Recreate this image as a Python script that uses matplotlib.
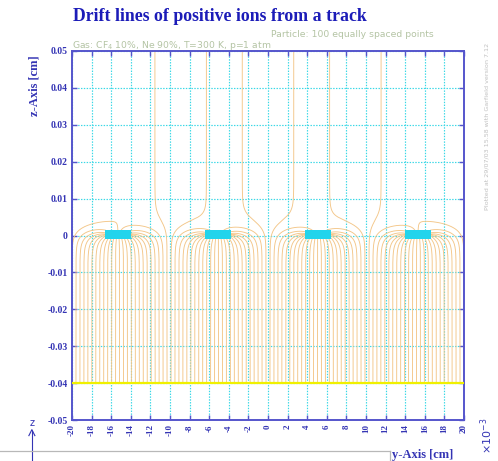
import numpy as np
import matplotlib.pyplot as plt
from matplotlib.patches import Rectangle
from matplotlib.lines import Line2D

# cell geometry, lengths in units of 1e-3 cm
pitch = 10.2
strip_centres = [-15.3, -5.1, 5.1, 15.3]
strip_width = 2.6
strip_bottom, strip_top = -1.0, 1.5
track_z = -40.0
n_points = 100
track_y = np.linspace(-20, 20, n_points)
field_ratio = 1 / 13  # drift field above the strips / below the strips

x_ticks = np.arange(-20, 21, 2)
z_ticks = [0.05, 0.04, 0.03, 0.02, 0.01, 0, -0.01, -0.02, -0.03, -0.04, -0.05]

blue = '#3434b4'
frame = '#5555cc'
serif = 'Liberation Serif'

# --- field: periodic strips (charge spread like a thin conductor) + uniform field
a = (1 - field_ratio) / (1 + field_ratio)
nn = 16
nodes = (strip_centres[2]
         + 0.5 * strip_width * np.cos((np.arange(nn) + 0.5) * np.pi / nn)
         + 1j * 0.5 * (strip_bottom + strip_top))


def efield(p):
    c = np.pi * (p[:, None] - nodes[None, :]) / pitch
    cot = np.cos(c) / np.sin(c)
    return 1j - a * np.conj(cot.mean(axis=1))


def on_strip(p):
    cs = strip_centres[2] + pitch * np.round((p.real - strip_centres[2]) / pitch)
    return ((np.abs(p.real - cs) <= strip_width / 2)
            & (p.imag >= strip_bottom) & (p.imag <= strip_top))


h = 0.05
pos = track_y + 1j * track_z
alive = np.ones(n_points, bool)
traj = [pos.copy()]
for _ in range(3500):
    if not alive.any():
        break
    p = pos[alive]
    d = efield(p)
    d /= np.abs(d)
    d2 = efield(p + 0.5 * h * d)
    d2 /= np.abs(d2)
    pos[alive] = p + h * d2
    done = on_strip(pos) | (pos.imag > 52) | (np.abs(pos.real) > 21)
    alive &= ~done
    traj.append(pos.copy())
traj = np.array(traj)

# --- figure
fig = plt.figure(figsize=(4.98, 4.61), dpi=100)
ax = fig.add_axes([0.1446, 0.0889, 0.7871, 0.8005])

ax.grid(color='#3ad8e6', linestyle=(0, (1.2, 1.2)), linewidth=0.85)
ax.set_axisbelow(True)

ax.plot(traj.real, traj.imag * 1e-3, color='#f3c688', linewidth=0.65)
ax.axhline(track_z * 1e-3, color='#f0f000', linewidth=1.6, zorder=4)
for c in strip_centres:
    ax.add_patch(Rectangle((c - strip_width / 2, strip_bottom * 1e-3), strip_width,
                           (strip_top - strip_bottom) * 1e-3,
                           facecolor='#22d4ec', edgecolor='none', zorder=5))

ax.set_xlim(-20, 20)
ax.set_ylim(-0.05, 0.05)
ax.set_xticks(x_ticks)
ax.set_xticklabels([str(v) for v in x_ticks], rotation=90, fontsize=6.5,
                   fontweight='bold', family=serif, color=blue)
ax.set_yticks(z_ticks)
ax.set_yticklabels(['0' if v == 0 else '%.2f' % v for v in z_ticks], fontsize=7,
                   fontweight='bold', family=serif, color=blue)
ax.tick_params(direction='in', top=True, right=True, length=3.5, width=1,
               color=frame, pad=3)
for s in ax.spines.values():
    s.set_color(frame)
    s.set_linewidth(1.4)

fig.text(0.442, 0.964, 'Drift lines of positive ions from a track', ha='center',
         va='center', fontsize=12.8, fontweight='bold', family=serif, color='#1c1cb8')
fig.text(0.145, 0.902, 'Gas: CF$_4$ 10%, Ne 90%, T=300 K, p=1 atm', fontsize=6.7,
         color='#b4c4a4', va='center')
fig.text(0.87, 0.926, 'Particle: 100 equally spaced points', fontsize=6.7,
         color='#b4c4a4', va='center', ha='right')
fig.text(0.07, 0.815, 'z-Axis [cm]', rotation=90, ha='center', va='center',
         fontsize=9, fontweight='bold', family=serif, color=blue)
fig.text(0.787, 0.012, 'y-Axis [cm]', ha='left', va='center', fontsize=9,
         fontweight='bold', family=serif, color=blue)
fig.text(0.978, 0.055, r'$\times10^{-3}$', rotation=90, ha='center', va='center',
         fontsize=8, fontweight='bold', family=serif, color=blue)
fig.text(0.978, 0.725, 'Plotted at 29/07/03 15.58 with Garfield version 7.12',
         rotation=90, ha='center', va='center', fontsize=4.6, color='#c0c0c0')

# z arrow and bottom frame line
fig.text(0.064, 0.083, 'z', ha='center', va='center', fontsize=7, color=blue)
fig.add_artist(Line2D([0.064, 0.064], [0.0, 0.065], color=blue, linewidth=0.8))
fig.add_artist(Line2D([0.058, 0.064, 0.070], [0.055, 0.068, 0.055], color=blue,
                      linewidth=0.8))
fig.add_artist(Line2D([0.0, 0.783], [0.022, 0.022], color='#b8b8b8', linewidth=0.9))
fig.add_artist(Line2D([0.783, 0.783], [0.0, 0.022], color='#b8b8b8', linewidth=0.9))

fig.savefig('out.png', dpi=100)
